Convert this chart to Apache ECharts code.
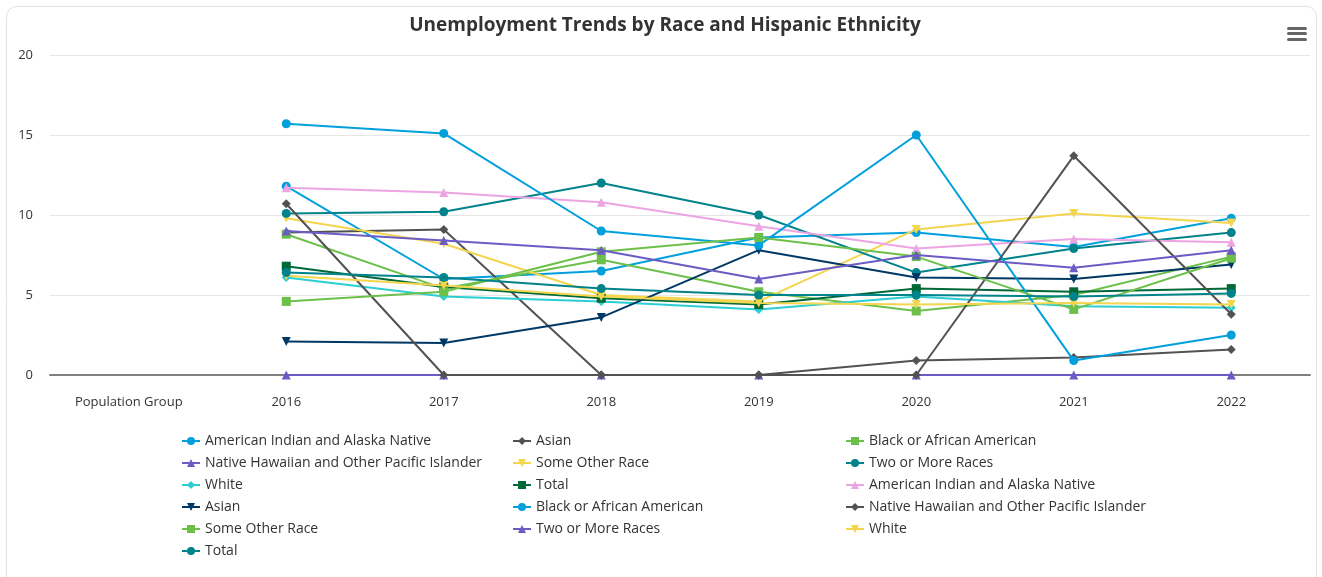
<!DOCTYPE html>
<html>
<head>
<meta charset="utf-8">
<script src="https://cdn.jsdelivr.net/npm/echarts@6/dist/echarts.min.js"></script>
<style>
html,body{margin:0;padding:0;background:#fff;}
#chart{width:1322px;height:577px;}
</style>
</head>
<body>
<div id="chart"></div>
<script>
const categories = ['Population Group', '2016', '2017', '2018', '2019', '2020', '2021', '2022'];
const yTicks = [0, 5, 10, 15, 20];

const aianA = [null, 11.8, 6.0, 6.5, 8.6, 8.9, 8.0, 9.8];
const asianA = [null, 8.9, 9.1, 0, 0, 0.9, 1.1, 1.6];
const blackA = [null, 8.8, 5.4, 7.2, 5.2, 4.0, 5.0, 7.4];
const nhopiA = [null, 0, 0, 0, 0, 0, 0, 0];
const otherA = [null, 9.8, 8.2, 5.0, 4.6, 9.1, 10.1, 9.5];
const twoA = [null, 10.1, 10.2, 12.0, 10.0, 6.4, 7.9, 8.9];
const whiteA = [null, 6.1, 4.9, 4.6, 4.1, 4.9, 4.3, 4.2];
const totalA = [null, 6.8, 5.5, 4.8, 4.4, 5.4, 5.2, 5.4];
const aianB = [null, 11.7, 11.4, 10.8, 9.3, 7.9, 8.5, 8.3];
const asianB = [null, 2.1, 2.0, 3.6, 7.8, 6.1, 6.0, 6.9];
const blackB = [null, 15.7, 15.1, 9.0, 8.1, 15.0, 0.9, 2.5];
const nhopiB = [null, 10.7, 0, 0, 0, 0, 13.7, 3.8];
const otherB = [null, 4.6, 5.2, 7.7, 8.6, 7.4, 4.1, 7.3];
const twoB = [null, 9.0, 8.4, 7.8, 6.0, 7.5, 6.7, 7.8];
const whiteB = [null, 6.2, 5.6, 4.9, 4.5, 4.4, 4.5, 4.4];
const totalB = [null, 6.4, 6.1, 5.4, 5.0, 5.0, 4.9, 5.1];

const names = [
  'American Indian and Alaska Native', 'Asian', 'Black or African American',
  'Native Hawaiian and Other Pacific Islander', 'Some Other Race', 'Two or More Races',
  'White', 'Total'
];
const seriesValues = [aianA, asianA, blackA, nhopiA, otherA, twoA, whiteA, totalA,
                      aianB, asianB, blackB, nhopiB, otherB, twoB, whiteB, totalB];
const colors = ['#00a0dd', '#525252', '#6cc04a', '#6b5bc5', '#f3d54e', '#00838a', '#2ccdd3', '#006937',
                '#eda4e3', '#003865', '#00a0dd', '#525252', '#6cc04a', '#6b5bc5', '#f3d54e', '#00838a'];
const triDown = 'path://M0,0L2,0L1,2Z';
const shapes = ['circle', 'diamond', 'rect', 'triangle', triDown];

const FONT = "'Open Sans', sans-serif";
const series = seriesValues.map((vals, i) => {
  const nm = names[i % 8] + (i >= 8 ? '\u200b' : '');
  return {
    name: nm,
    type: 'line',
    data: vals,
    symbol: shapes[i % 5],
    symbolSize: 9,
    showSymbol: true,
    connectNulls: false,
    itemStyle: { color: colors[i] },
    lineStyle: { color: colors[i], width: 2 },
    emphasis: { disabled: true },
    z: 2 + i * 0.01
  };
});
const seriesNames = series.map(s => s.name);
const colIdx = [[0, 3, 6, 9, 12, 15], [1, 4, 7, 10, 13], [2, 5, 8, 11, 14]];
const colLeft = [181, 512, 845];
const legends = colIdx.map((idxs, c) => ({
  orient: 'vertical',
  left: colLeft[c],
  top: 434,
  itemWidth: 18,
  itemHeight: 10,
  itemGap: 8,
  padding: 0,
  data: idxs.map(k => seriesNames[k]),
  textStyle: { fontFamily: FONT, fontSize: 14, color: '#333', lineHeight: 14 },
  selectedMode: false
}));

const chart = echarts.init(document.getElementById('chart'), null, { renderer: 'canvas' });
chart.setOption({
  animation: false,
  backgroundColor: '#fff',
  color: colors,
  title: {
    text: 'Unemployment Trends by Race and Hispanic Ethnicity',
    left: 665, textAlign: 'center', top: 16, padding: 0,
    textStyle: { fontFamily: FONT, fontSize: 19, fontWeight: 'bold', color: '#333' }
  },
  graphic: [
    { type: 'rect', shape: { x: 6.5, y: 6.5, width: 1310, height: 600, r: 10 },
      style: { fill: 'none', stroke: '#e2e2e2', lineWidth: 1 }, z: -1, silent: true },
    { type: 'rect', shape: { x: 1287, y: 27, width: 20, height: 3, r: 1.5 }, style: { fill: '#666' }, silent: true },
    { type: 'rect', shape: { x: 1287, y: 32, width: 20, height: 3, r: 1.5 }, style: { fill: '#666' }, silent: true },
    { type: 'rect', shape: { x: 1287, y: 38, width: 20, height: 3, r: 1.5 }, style: { fill: '#666' }, silent: true }
  ],
  legend: legends,
  grid: { left: 50, right: 12, top: 55, bottom: 202, containLabel: false },
  xAxis: {
    type: 'category',
    data: categories,
    boundaryGap: true,
    axisLine: { show: true, lineStyle: { color: '#808080', width: 2 } },
    axisTick: { show: false },
    axisLabel: { fontFamily: FONT, fontSize: 13, color: '#333', margin: 21, interval: 0 },
    splitLine: { show: false }
  },
  yAxis: {
    type: 'value',
    min: yTicks[0], max: yTicks[yTicks.length - 1], interval: 5,
    axisLine: { show: false },
    axisTick: { show: false },
    axisLabel: { fontFamily: FONT, fontSize: 13, color: '#333', margin: 17 },
    splitLine: { show: true, lineStyle: { color: '#e6e6e6', width: 1 } }
  },
  series: series
});
</script>
</body>
</html>
